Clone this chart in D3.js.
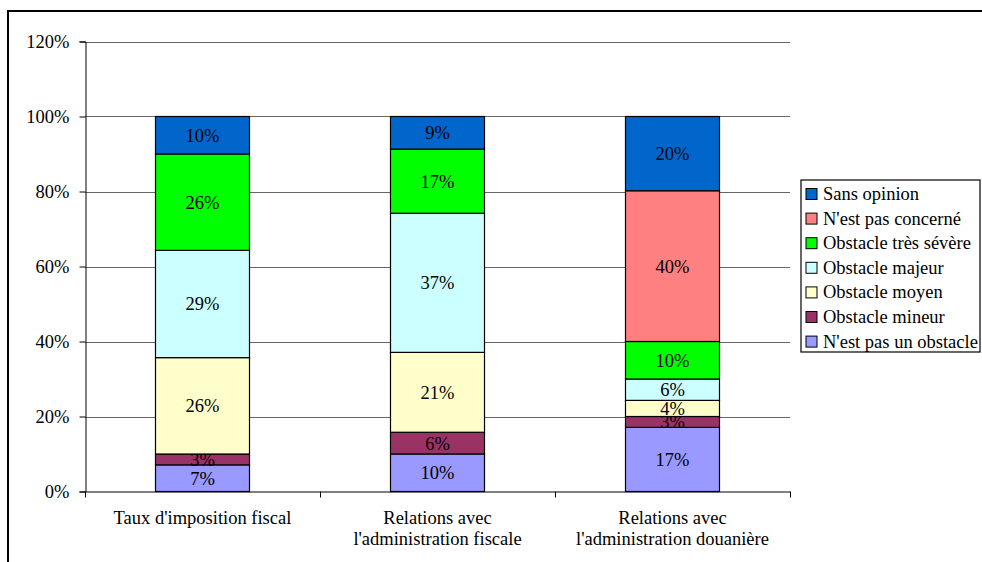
<!DOCTYPE html>
<html>
<head>
<meta charset="utf-8">
<script src="https://cdn.jsdelivr.net/npm/d3@7"></script>
<style>
  html, body { margin: 0; padding: 0; background: #fff; }
  svg { display: block; }
  text { font-family: "Liberation Serif", "Times New Roman", serif; fill: #000; }
</style>
</head>
<body>
<svg id="chart" width="982" height="562"></svg>
<script>
// ---- Data ----
const categories = [
  "Taux d'imposition fiscal",
  "Relations avec\nl'administration fiscale",
  "Relations avec\nl'administration douanière"
];
const seriesNames = [
  "N'est pas un obstacle",
  "Obstacle mineur",
  "Obstacle moyen",
  "Obstacle majeur",
  "Obstacle très sévère",
  "N'est pas concerné",
  "Sans opinion"
];
const nestPasUnObstacle = [7.1, 10.0, 17.1];
const obstacleMineur    = [2.9, 5.8, 2.9];
const obstacleMoyen     = [25.7, 21.3, 4.3];
const obstacleMajeur    = [28.6, 37.1, 5.7];
const obstacleTresSevere= [25.7, 17.1, 10.0];
const nestPasConcerne   = [0, 0, 40.2];
const sansOpinion       = [10.0, 8.7, 19.8];
const seriesColors = ["#9999FF", "#993366", "#FFFFCC", "#CCFFFF", "#00FF00", "#FF8080", "#0066CC"];
const yTickValues = [0, 20, 40, 60, 80, 100, 120];

const seriesValues = [nestPasUnObstacle, obstacleMineur, obstacleMoyen, obstacleMajeur,
                      obstacleTresSevere, nestPasConcerne, sansOpinion];

const FS = 18.5;

// Build table for d3.stack
const table = categories.map((c, i) => {
  const row = { category: c };
  seriesNames.forEach((s, j) => { row[s] = seriesValues[j][i]; });
  return row;
});

const svg = d3.select("#chart");

// outer frame
svg.append("rect")
  .attr("x", 8).attr("y", 11).attr("width", 990).attr("height", 570)
  .attr("fill", "none").attr("stroke", "#000").attr("stroke-width", 2);

const plot = { left: 85, right: 790, top: 41.5, bottom: 491.5 };

const x = d3.scaleBand().domain(categories).range([plot.left, plot.right]).paddingInner(0).paddingOuter(0);
const y = d3.scaleLinear().domain([0, 120]).range([plot.bottom, plot.top]);

// gridlines
svg.append("g").selectAll("line")
  .data(yTickValues.filter(v => v > 0))
  .join("line")
  .attr("x1", plot.left).attr("x2", plot.right)
  .attr("y1", d => Math.round(y(d)) + 0.5).attr("y2", d => Math.round(y(d)) + 0.5)
  .attr("stroke", "#666").attr("stroke-width", 1);

// Y axis
const yAxis = d3.axisLeft(y).tickValues(yTickValues).tickFormat(d => d + "%").tickSize(6).tickPadding(10);
const gy = svg.append("g").attr("transform", `translate(${plot.left + 0.5},0)`).call(yAxis);
gy.attr("font-family", null);
gy.select(".domain").attr("stroke", "#000");
gy.selectAll(".tick line").attr("stroke", "#000");
gy.selectAll(".tick text").attr("font-size", FS).attr("fill", "#000");

// stacked bars
const stack = d3.stack().keys(seriesNames);
const stacked = stack(table);
const barW = x.bandwidth() * 0.4;

const layers = svg.append("g").selectAll("g")
  .data(stacked)
  .join("g")
  .attr("fill", (d, i) => seriesColors[i]);

layers.selectAll("rect")
  .data(d => d.filter(p => p[1] - p[0] > 0))
  .join("rect")
  .attr("x", d => x(d.data.category) + (x.bandwidth() - barW) / 2)
  .attr("y", d => y(d[1]))
  .attr("width", barW)
  .attr("height", d => y(d[0]) - y(d[1]))
  .attr("stroke", "#000").attr("stroke-width", 1.2);

// value labels
layers.selectAll("text")
  .data(d => d.filter(p => p[1] - p[0] > 0))
  .join("text")
  .attr("x", d => x(d.data.category) + x.bandwidth() / 2)
  .attr("y", d => (y(d[0]) + y(d[1])) / 2)
  .attr("dy", "0.35em")
  .attr("text-anchor", "middle")
  .attr("font-size", FS)
  .attr("fill", "#000")
  .text(d => Math.round(d[1] - d[0]) + "%");

// X axis
const xAxisG = svg.append("g").attr("transform", `translate(0,${plot.bottom})`);
xAxisG.append("line").attr("x1", plot.left).attr("x2", plot.right).attr("y1", 0.5).attr("y2", 0.5).attr("stroke", "#000");
const xTickPos = [plot.left, ...categories.map(c => x(c) + x.bandwidth())];
xAxisG.selectAll("line.tk").data(xTickPos).join("line").attr("class", "tk")
  .attr("x1", d => Math.round(d) + 0.5).attr("x2", d => Math.round(d) + 0.5)
  .attr("y1", 0).attr("y2", 6).attr("stroke", "#000");
const xl = xAxisG.selectAll("text.cat").data(categories).join("text").attr("class", "cat")
  .attr("x", d => x(d) + x.bandwidth() / 2)
  .attr("y", 32)
  .attr("text-anchor", "middle")
  .attr("font-size", FS);
xl.each(function(d) {
  const lines = d.split("\n");
  d3.select(this).selectAll("tspan").data(lines).join("tspan")
    .attr("x", x(d) + x.bandwidth() / 2)
    .attr("dy", (l, i) => i === 0 ? 0 : 21)
    .text(l => l);
});

// Legend
const legend = svg.append("g");
legend.append("rect").attr("x", 801).attr("y", 180).attr("width", 179).attr("height", 172)
  .attr("fill", "#fff").attr("stroke", "#000").attr("stroke-width", 1.2);
const legendOrder = seriesNames.map((s, i) => i).reverse();
const li = legend.selectAll("g.item").data(legendOrder).join("g").attr("class", "item")
  .attr("transform", (d, k) => `translate(806,${193.5 + k * 24.6})`);
li.append("rect").attr("x", 0).attr("y", -5).attr("width", 11).attr("height", 11)
  .attr("fill", d => seriesColors[d]).attr("stroke", "#000").attr("stroke-width", 1);
li.append("text").attr("x", 17).attr("y", 0).attr("dy", "0.35em")
  .attr("font-size", FS).text(d => seriesNames[d]);
</script>
</body>
</html>
